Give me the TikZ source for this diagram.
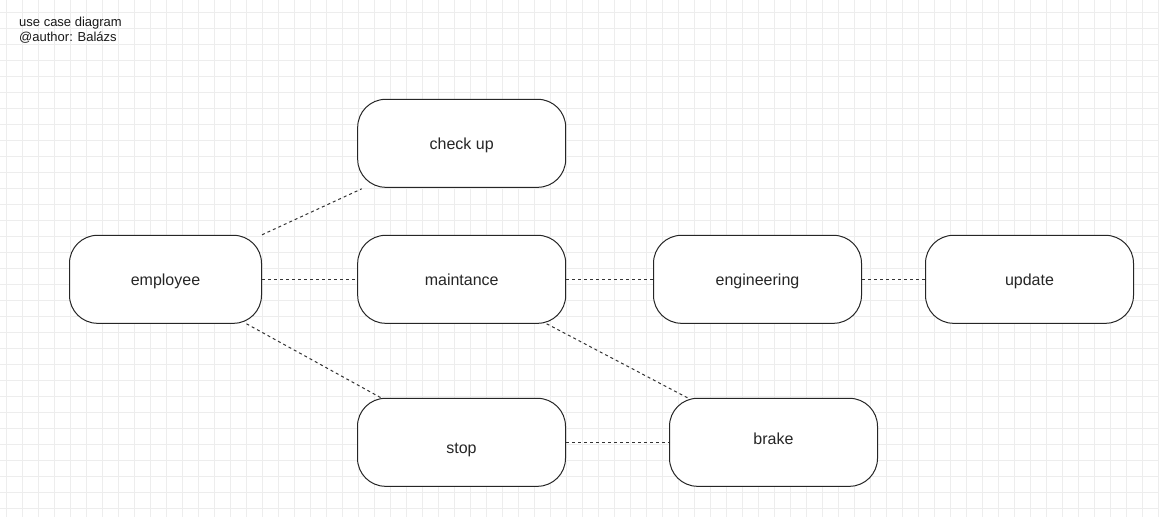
\documentclass[tikz,border=0pt]{standalone}
\usepackage{fontspec}
\setmainfont{Liberation Sans}
\begin{document}
\begin{tikzpicture}[x=1pt,y=-1pt,
  usecase/.style={draw=black!85, line width=1pt, rounded corners=28pt,
    minimum width=208pt, minimum height=88pt, inner sep=0pt, fill=white,
    font=\fontsize{16}{19}\selectfont, text=black!85,
    text height=15.5pt, text depth=3.5pt},
  assoc/.style={draw=black!80, line width=1pt, dash pattern=on 3pt off 3pt},
  gridline/.style={draw=black!7, line width=0.8pt},
  titletext/.style={font=\fontsize{13}{15}\selectfont, anchor=base west,
    inner sep=0pt, text=black!90}]
  % background and bounding box
  \fill[white] (0,0) rectangle (1159,517);
  \useasboundingbox (0,0) rectangle (1159,517);
  % grid
  \foreach \i in {0,...,72} \draw[gridline] (6.3+16*\i,0) -- (6.3+16*\i,517);
  \foreach \j in {0,...,31} \draw[gridline] (0,12.3+16*\j) -- (1159,12.3+16*\j);
  % title
  \node[titletext] (title1) at (19,26.7) {use case diagram};
  \node[titletext] (title2) at (19,41) {@author: Balázs};
  % use cases
  \node[usecase, minimum width=192pt] (employee) at (165.5,279.3) {employee};
  \node[usecase] (checkup) at (461.7,143.3) {check up};
  \node[usecase] (maintance) at (461.7,279.3) {maintance};
  \node[usecase] (engineering) at (757.5,279.3) {engineering};
  \node[usecase] (update) at (1029.5,279.3) {update};
  \node[usecase, text height=25pt] (stop) at (461.5,442.3) {stop};
  \node[usecase, text depth=10.5pt] (brake) at (773.5,442.3) {brake};
  % associations
  \draw[assoc] (employee.north east) -- ([xshift=4.5pt,yshift=-1pt]checkup.south west);
  \draw[assoc] (employee.east) -- (maintance.west);
  \draw[assoc] ([xshift=-15.5pt]employee.south east) -- ([xshift=24pt]stop.north west);
  \draw[assoc] (maintance.east) -- (engineering.west);
  \draw[assoc] (engineering.east) -- (update.west);
  \draw[assoc] ([xshift=-19.5pt]maintance.south east) -- ([xshift=18.5pt]brake.north west);
  \draw[assoc] (stop.east) -- (brake.west);
\end{tikzpicture}
\end{document}
